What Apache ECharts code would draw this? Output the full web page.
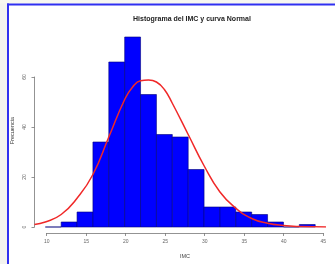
<!DOCTYPE html>
<html>
<head>
<meta charset="utf-8">
<script src="https://cdn.jsdelivr.net/npm/echarts@6/dist/echarts.min.js"></script>
<style>html,body{margin:0;padding:0;background:#fff}#c{width:335px;height:264px}</style>
</head>
<body>
<div id="c"></div>
<script>
const titleText = 'Histograma del IMC y curva Normal';
const xLabel = 'IMC';
const yLabel = 'Frecuencia';
const breaks = [10,12,14,16,18,20,22,24,26,28,30,32,34,36,38,40,42,44];
const counts = [0,2,6,34,66,76,53,37,36,23,8,8,6,5,2,0,1];
const curveX = [8.64,10,12,14,16,18,20,21,22,23,24,25,26,28,30,32,34,36,38,40,42,45.36];
const curveY = [1.0,2.0,5.0,11.5,21,36,51,56,58.5,58.8,58,55,49.5,37,24.5,14,7.5,3.4,1.5,0.6,0.2,0.0];
const xTicks = [10,15,20,25,30,35,40,45];
const yTicks = [0,20,40,60];

const barData = counts.map((c,i)=>[breaks[i],breaks[i+1],c]);
const curveData = curveX.map((x,i)=>[x,curveY[i]]);
const font = 'Liberation Sans, Arial, sans-serif';
const axisCol = '#777';

const chart = echarts.init(document.getElementById('c'), null, {renderer:'canvas'});
chart.setOption({
  animation:false,
  backgroundColor:'#fff',
  title:{text:titleText,left:187,top:11,textAlign:'center',
    textStyle:{fontSize:7,fontWeight:'bold',color:'#222',fontFamily:font}},
  grid:[
    {left:34.5,right:9,top:37,bottom:37},
    {left:46.7,right:11.8,top:37,bottom:37},
    {left:34.5,right:9,top:77,bottom:37}
  ],
  xAxis:[
    {gridIndex:0,type:'value',min:breaks[0]-0.04*(breaks[breaks.length-1]-breaks[0]),max:breaks[breaks.length-1]+0.04*(breaks[breaks.length-1]-breaks[0]),show:false},
    {gridIndex:1,type:'value',min:xTicks[0],max:xTicks[xTicks.length-1],interval:5,offset:8,
      name:xLabel,nameLocation:'middle',nameGap:20,nameTextStyle:{fontSize:5.5,color:'#444',fontFamily:font},
      axisLine:{show:true,onZero:false,lineStyle:{color:axisCol,width:0.8}},
      axisTick:{show:true,length:3,lineStyle:{color:axisCol,width:0.8}},
      axisLabel:{fontSize:5,color:'#666',margin:6,fontFamily:font},
      splitLine:{show:false}},
    {gridIndex:2,type:'value',min:0,max:1,show:false}
  ],
  yAxis:[
    {gridIndex:0,type:'value',min:0,max:76,show:false},
    {gridIndex:1,type:'value',min:0,max:1,show:false},
    {gridIndex:2,type:'value',min:yTicks[0],max:yTicks[yTicks.length-1],interval:20,
      axisLine:{show:true,onZero:false,lineStyle:{color:axisCol,width:0.8}},
      axisTick:{show:true,length:3,lineStyle:{color:axisCol,width:0.8}},
      axisLabel:{fontSize:5,color:'#666',margin:7,rotate:90,fontFamily:font},
      splitLine:{show:false}}
  ],
  series:[
    {type:'custom',xAxisIndex:0,yAxisIndex:0,data:barData,
      renderItem:function(params,api){
        const p0=api.coord([api.value(0),api.value(2)]);
        const p1=api.coord([api.value(1),0]);
        return {type:'rect',shape:{x:p0[0],y:p0[1],width:p1[0]-p0[0],height:p1[1]-p0[1]},
          style:{fill:'#0000ff',stroke:'#00007a',lineWidth:0.6}};
      }},
    {type:'line',xAxisIndex:0,yAxisIndex:0,data:curveData,smooth:true,symbol:'none',
      lineStyle:{color:'#f02828',width:1.5},z:5}
  ],
  graphic:[
    {type:'rect',left:0,top:0,shape:{width:7,height:264},style:{fill:'#f3f3ef'},silent:true},
    {type:'rect',left:0,top:0,shape:{width:335,height:3.5},style:{fill:'#f7f7f0'},silent:true},
    {type:'rect',left:7,top:3.5,shape:{width:328,height:2},style:{fill:'#3030f0'},silent:true},
    {type:'rect',left:7,top:3.5,shape:{width:2,height:261},style:{fill:'#3030f0'},silent:true},
    {type:'text',left:9,top:117,rotation:Math.PI/2,style:{text:yLabel,fontSize:5.5,fill:'#333',font:'5.5px '+font},silent:true}
  ]
});
</script>
</body>
</html>
